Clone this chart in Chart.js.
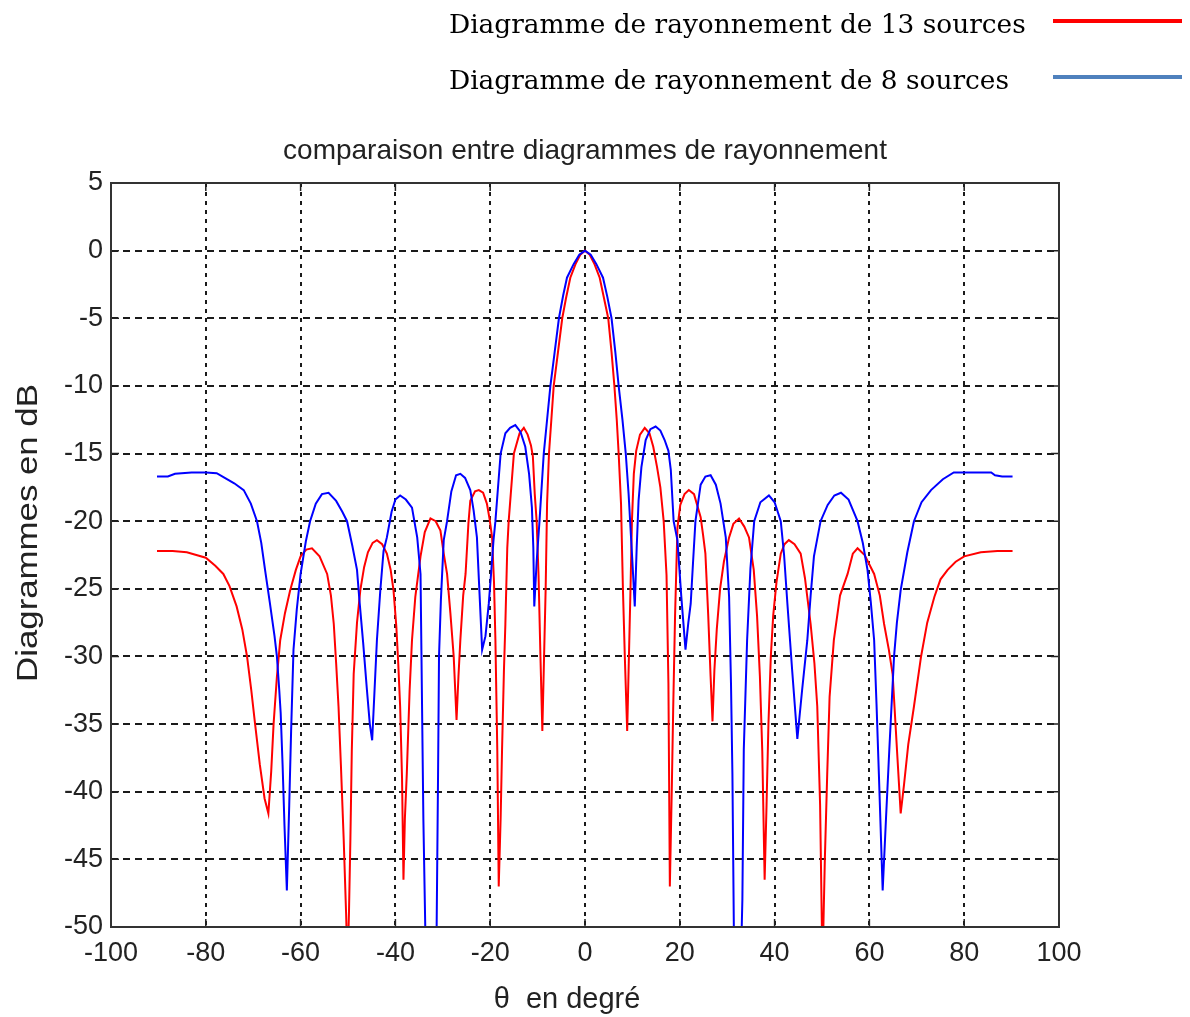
<!DOCTYPE html>
<html lang="fr">
<head>
<meta charset="UTF-8">
<title>comparaison entre diagrammes de rayonnement</title>
<style>
  html, body { margin: 0; padding: 0; background: #fff; }
  #chart { display: block; }
</style>
</head>
<body>
<canvas id="chart" width="1190" height="1017"></canvas>

<script src="https://cdn.jsdelivr.net/npm/chart.js"></script>
<script>
// angles (degrés) et niveaux (dB) relevés pour le réseau de 13 sources
const theta13 = [
  -90.3, -87, -84, -82, -80, -78, -76.3, -75, -73.5, -72.3, -71.3, -70.4, -69.6, -68.6, -67.6, -66.8,
  -66.2, -65.7, -65, -64.3, -63.3, -62.2, -61, -60, -58.8, -57.6, -56, -54.4, -53.6, -53, -52.5, -52,
  -51.5, -50.9, -50.4, -50.1, -49.8, -49.5, -49.2, -48.8, -48.1, -47.4, -46.6, -45.8, -44.8, -43.9, -42.8, -41.8,
  -41, -40.4, -39.8, -39.4, -39, -38.6, -38.3, -38, -37.6, -37, -36.5, -35.8, -34.7, -33.8, -32.6, -31.5,
  -30.5, -29.8, -29.1, -28.4, -27.7, -27.1, -26.7, -26.3, -25.7, -25.2, -24.6, -24.2, -23.2, -22.4, -21.5, -20.7,
  -20.1, -19.6, -19.2, -18.9, -18.5, -18.2, -17.8, -17.5, -17.1, -16.8, -16.4, -16.1, -15, -13.8, -12.9, -12.1,
  -11.4, -11, -10.6, -10.2, -9.8, -9.4, -9, -8.7, -8.3, -8, -7.6, -7.1, -6.6, -5.7, -4.8, -4,
  -3.1, -2, -1, 0,
  1, 2, 3.1, 4, 4.9, 5.6, 6.2, 6.7, 7.1, 7.6, 8, 8.4, 8.9, 9.2, 9.6, 9.9,
  10.3, 10.8, 11.6, 12.6, 13.6, 14.4, 15.2, 15.9, 16.6, 17.2, 17.6, 17.9, 18.3, 18.6, 19, 19.5,
  20.1, 21, 21.9, 23, 24.4, 24.9, 25.4, 26, 26.5, 26.9, 27.3, 27.8, 28.5, 29.3, 30.4, 31.3,
  32.5, 33.6, 34.6, 35.6, 36.3, 36.9, 37.4, 37.9, 38.3, 38.7, 39.2, 39.7, 40.4, 41.3, 42.1, 43,
  44.2, 45.5, 46.4, 47.6, 48.4, 49, 49.6, 50.1, 50.6, 51.1, 51.6, 52.5, 53.8, 55.4, 56.5, 57.5,
  59, 61, 62.2, 63.1, 64.1, 64.9, 65.9, 66.6, 67.3, 68.2, 69.4, 70.9, 72.2, 73.7, 75, 76.5,
  78.2, 80, 83.5, 87, 90.2
];
const gain13 = [
  -22.2, -22.2, -22.3, -22.5, -22.7, -23.3, -23.9, -24.8, -26.3, -28, -30, -32.5, -35, -38, -40.5, -41.6,
  -38.5, -35, -31.5, -28.8, -26.8, -25.1, -23.6, -22.6, -22.1, -22, -22.6, -23.9, -25.5, -27.6, -30.5, -33.7,
  -38, -43.6, -49, -53, -49, -43.6, -37, -31.3, -27.5, -25.1, -23.4, -22.3, -21.6, -21.4, -21.7, -22.4,
  -23.6, -25.1, -27.8, -30.5, -33.7, -39, -46.5, -42, -38.7, -32.5, -28.8, -25.6, -22.6, -20.8, -19.8, -20,
  -20.7, -22.4, -23.9, -26.8, -30, -34.7, -31.5, -28.8, -25.5, -23.9, -20.2, -18.5, -17.8, -17.7, -17.9, -18.7,
  -19.9, -21.2, -24.5, -28.8, -37, -47, -42, -36.9, -31, -27.6, -22, -20, -15, -13.5, -13.1, -13.6,
  -14.4, -15.2, -18, -20, -24, -30, -35.5, -31, -25, -18.7, -15, -12.5, -10, -7.5, -5, -3.5,
  -2, -1, -0.3, 0,
  -0.3, -1, -2, -3.5, -5, -7.5, -10, -12.5, -15, -18.7, -25, -30, -35.5, -31, -25, -20,
  -16.5, -14.8, -13.6, -13.1, -13.5, -14.5, -16, -17.5, -20, -24, -32, -47, -40, -34, -27, -20.5,
  -18.8, -18, -17.7, -18, -19.7, -21, -22.4, -27, -31.5, -34.8, -31, -28, -25, -23, -21.2, -20.2,
  -19.8, -20.4, -21.2, -23.6, -27, -31.5, -37, -46.5, -41, -35, -30, -27, -24.5, -22.4, -21.7, -21.4,
  -21.7, -22.4, -24.2, -27.6, -30.5, -33.7, -41, -53, -45, -38.7, -33, -28.8, -25.5, -23.9, -22.4, -22,
  -22.5, -23.9, -25.5, -27.6, -29.5, -31.3, -37.4, -41.6, -39.5, -36.5, -33.7, -30, -27.5, -25.6, -24.3, -23.6,
  -23, -22.6, -22.3, -22.2, -22.2
];

// angles (degrés) et niveaux (dB) relevés pour le réseau de 8 sources
const theta8 = [
  -90.3, -88, -86.5, -83, -80, -77.7, -76, -74, -72, -70.5, -69.2, -68.3, -67.5, -66.5, -65.5, -65,
  -64.5, -64.2, -63.8, -63.4, -62.9, -62.4, -62, -61.5, -60.8, -60, -58.9, -58, -56.8, -55.5, -54.1, -52.5,
  -51.2, -50.2, -49.1, -48.1, -47.6, -46.8, -46, -45.4, -44.9, -44.4, -43.9, -43.2, -42.5, -41.8, -40.8, -40,
  -39, -37.8, -36.5, -35.4, -34.7, -34.4, -34.1, -33.7, -32.5, -31.3, -31, -30.8, -30.4, -29.8, -29.1, -28.2,
  -27.2, -26.3, -25.3, -24.2, -23.5, -22.8, -22.3, -21.7, -21, -20.3, -19.8, -19.3, -18.9, -17.8, -16.8, -15.8,
  -14.7, -13.6, -12.6, -11.8, -11.2, -10.9, -10.7, -10.2, -9.6, -8.7, -8, -7.3, -6.4, -5.5, -4.6, -3.8,
  -2.4, -1.2, 0,
  1.2, 2.4, 3.8, 4.7, 5.6, 6.4, 7.1, 7.9, 8.6, 9.2, 9.6, 10, 10.5, 10.9, 11.3, 11.9,
  12.8, 13.8, 14.9, 15.9, 16.8, 17.6, 18.1, 18.7, 19.5, 20.3, 21.2, 21.8, 22.3, 22.8, 23.3, 24.4,
  25.4, 26.5, 27.6, 28.6, 29.7, 30.4, 30.8, 31.1, 31.4, 32.4, 33.2, 33.5, 34.2, 34.9, 35.7, 37,
  38.8, 40, 41.3, 42, 42.7, 43.7, 44.8, 45.8, 46.9, 47.6, 48.3, 49.7, 51.2, 52.6, 54, 55.6,
  57.5, 58.6, 59.6, 60.3, 61, 61.5, 62, 62.8, 63.5, 64.2, 65.2, 65.8, 66.6, 68, 69.4, 71,
  73, 75.5, 77.8, 80, 83, 85.7, 86.5, 88, 90.2
];
const gain8 = [
  -16.7, -16.7, -16.5, -16.4, -16.4, -16.45, -16.8, -17.2, -17.7, -18.7, -20, -21.6, -23.6, -26, -28.5, -30,
  -32.5, -34.2, -38, -42.5, -47.3, -41, -35.5, -29.5, -26.5, -23.9, -21.5, -20, -18.7, -18, -17.9, -18.5,
  -19.3, -20, -21.8, -23.6, -25.8, -29, -32.5, -35, -36.2, -32.5, -28.8, -25.2, -22.2, -21.2, -19.3, -18.4,
  -18.1, -18.4, -19, -21.2, -23.9, -33, -42, -50, -60, -50, -38.7, -30, -25.8, -21.4, -20, -17.8,
  -16.6, -16.5, -16.8, -17.7, -19.2, -21.2, -25, -29.5, -28.5, -26.1, -23.8, -21.4, -20, -15, -13.5, -13.1,
  -12.9, -13.4, -14.5, -16.5, -19, -22, -26.3, -23, -20, -15, -12.5, -10, -7.5, -5, -3.3, -2,
  -1, -0.3, 0,
  -0.3, -1, -2, -3.4, -5, -7.5, -10, -12.5, -15, -18, -20.5, -23, -26.3, -22, -18.5, -16,
  -14, -13.2, -13, -13.3, -14, -14.8, -16.2, -20, -21.4, -25.5, -29.5, -27.5, -26.1, -23, -20, -17.3,
  -16.7, -16.6, -17.3, -18.7, -21.2, -25.6, -32, -38.7, -50, -60, -48, -36.9, -28.8, -23.5, -20, -18.6,
  -18.1, -18.6, -20, -22.5, -26.1, -31, -36.1, -32.5, -28.8, -25.5, -22.6, -20, -18.8, -18.1, -17.9, -18.4,
  -20, -21.6, -23.6, -26, -28.8, -33.5, -38.7, -47.3, -42, -36.9, -30, -27.5, -25.1, -22.3, -20, -18.6,
  -17.7, -16.9, -16.4, -16.4, -16.4, -16.4, -16.6, -16.7, -16.7
];

// graduations des axes
const xTicks = [-100, -80, -60, -40, -20, 0, 20, 40, 60, 80, 100];
const yTicks = [5, 0, -5, -10, -15, -20, -25, -30, -35, -40, -45, -50];

const legendLabels = ['Diagramme de rayonnement de 13 sources', 'Diagramme de rayonnement de 8 sources'];
const plotTitle = 'comparaison entre diagrammes de rayonnement';
const xLabel = '\u03b8  en degr\u00e9';
const yLabel = 'Diagrammes en dB';

const sans = "'Liberation Sans', Arial, sans-serif";
const serif = "'DejaVu Serif', 'Liberation Serif', serif";

function toPoints(xs, ys) {
  return xs.map((t, i) => ({ x: t, y: ys[i] }));
}

// cadre, petites graduations intérieures, titres et légende
const decor = {
  id: 'decor',
  afterDraw(chart) {
    const { ctx, chartArea: a, scales } = chart;
    const sx = scales.x, sy = scales.y;
    ctx.save();

    ctx.strokeStyle = '#222';
    ctx.lineWidth = 1.5;
    ctx.beginPath();
    xTicks.forEach(v => {
      const px = sx.getPixelForValue(v);
      ctx.moveTo(px, a.bottom); ctx.lineTo(px, a.bottom - 8);
      ctx.moveTo(px, a.top); ctx.lineTo(px, a.top + 8);
    });
    yTicks.forEach(v => {
      const py = sy.getPixelForValue(v);
      ctx.moveTo(a.left, py); ctx.lineTo(a.left + 8, py);
      ctx.moveTo(a.right, py); ctx.lineTo(a.right - 8, py);
    });
    ctx.stroke();

    ctx.strokeStyle = '#333';
    ctx.lineWidth = 2;
    ctx.strokeRect(a.left, a.top, a.right - a.left, a.bottom - a.top);

    ctx.fillStyle = '#222';
    ctx.textAlign = 'center';
    ctx.textBaseline = 'alphabetic';
    ctx.font = '28px ' + sans;
    ctx.fillText(plotTitle, (a.left + a.right) / 2, 159);

    ctx.font = '29px ' + sans;
    ctx.fillText(xLabel, 567, 1008);

    // libellé vertical, un peu étiré dans le sens du texte
    ctx.save();
    ctx.translate(37, 533);
    ctx.rotate(-Math.PI / 2);
    ctx.scale(1.2, 1);
    ctx.fillText(yLabel, 0, 0);
    ctx.restore();

    // légende hors du graphe
    ctx.fillStyle = '#000';
    ctx.textAlign = 'left';
    ctx.font = '26.4px ' + serif;
    const colors = [chart.data.datasets[1].borderColor, '#4f81bd'];
    const rows = [21, 77];
    legendLabels.forEach((txt, i) => {
      ctx.fillText(txt, 449, rows[i] + 12);
      ctx.strokeStyle = colors[i];
      ctx.lineWidth = 4;
      ctx.beginPath();
      ctx.moveTo(1053, rows[i]);
      ctx.lineTo(1182, rows[i]);
      ctx.stroke();
    });

    ctx.restore();
  }
};

new Chart(document.getElementById('chart'), {
  type: 'line',
  data: {
    datasets: [
      {
        label: legendLabels[1],
        data: toPoints(theta8, gain8),
        borderColor: '#0000ff',
        borderWidth: 2,
        pointRadius: 0,
        tension: 0
      },
      {
        label: legendLabels[0],
        data: toPoints(theta13, gain13),
        borderColor: '#ff0000',
        borderWidth: 2,
        pointRadius: 0,
        tension: 0
      }
    ]
  },
  options: {
    responsive: false,
    animation: false,
    events: [],
    layout: { padding: { top: 183, right: 131, left: 0, bottom: 0 } },
    plugins: {
      legend: { display: false },
      title: { display: false },
      tooltip: { enabled: false }
    },
    scales: {
      x: {
        type: 'linear',
        min: -100,
        max: 100,
        afterFit: s => { s.height = 90; },
        afterBuildTicks: s => { s.ticks = xTicks.map(v => ({ value: v })); },
        ticks: { color: '#222', font: { family: sans, size: 27 }, padding: 10, maxRotation: 0 },
        grid: { color: '#1a1a1a', lineWidth: 2, drawTicks: false },
        border: { display: false, dash: [4, 5] }
      },
      y: {
        type: 'linear',
        min: -50,
        max: 5,
        afterFit: s => { s.width = 111; },
        afterBuildTicks: s => { s.ticks = yTicks.slice().reverse().map(v => ({ value: v })); },
        ticks: { color: '#222', font: { family: sans, size: 27 }, padding: 8 },
        grid: { color: '#1a1a1a', lineWidth: 2, drawTicks: false },
        border: { display: false, dash: [7, 5] }
      }
    }
  },
  plugins: [decor]
});
</script>
</body>
</html>
